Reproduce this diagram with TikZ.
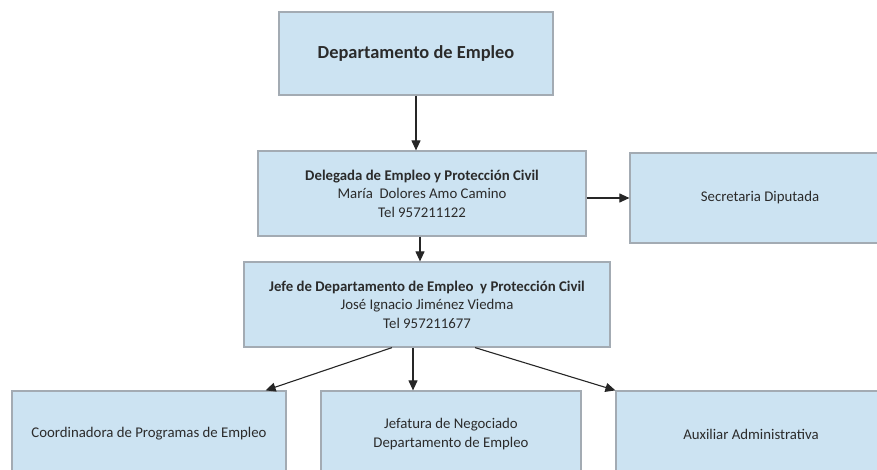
\documentclass[tikz,border=0pt]{standalone}
\usepackage{fontspec}
\setmainfont{Carlito}
\usetikzlibrary{arrows.meta, positioning}
\definecolor{boxfill}{HTML}{CCE3F2}
\definecolor{boxline}{HTML}{A3ABB3}
\definecolor{txt}{HTML}{2B2B2B}
\tikzset{
  caja/.style={draw=boxline, fill=boxfill, line width=1.2pt, align=center, text=txt, inner sep=0pt,
    font=\fontsize{14.8}{18.5}\selectfont},
  flecha/.style={-{Triangle[length=10pt, width=9pt]}, line width=1.1pt, draw=black!85}
}

\begin{document}
\begin{tikzpicture}[x=1pt, y=-1pt]
\useasboundingbox (0, 0) rectangle (877, 469);
\clip (0, 0) rectangle (877, 469);
\node[caja, minimum width=274pt, minimum height=83pt, font=\fontsize{18.4}{22}\selectfont\bfseries] (dep) at (416, 53.5) {Departamento de Empleo};
\node[caja, minimum width=328pt, minimum height=85pt] (del) at (422, 193.5) {\textbf{Delegada de Empleo y Protección Civil}\\María\ \ Dolores Amo Camino\\Tel 957211122};
\node[caja, minimum width=260pt, minimum height=90pt] (sec) at (760, 198) {Secretaria Diputada};
\node[caja, minimum width=366pt, minimum height=85pt] (jefe) at (427, 304.5) {\textbf{Jefe de Departamento de Empleo\ \ y Protección Civil}\\José Ignacio Jiménez Viedma\\Tel 957211677};
\node[caja, minimum width=274pt, minimum height=86pt] (coord) at (149, 434) {Coordinadora de Programas de Empleo};
\node[caja, minimum width=260pt, minimum height=86pt] (neg) at (451, 434) {Jefatura de Negociado\\Departamento de Empleo};
\node[caja, minimum width=270pt, minimum height=86pt] (aux) at (751, 434) {Auxiliar Administrativa};
\draw[flecha] (dep.south) -- (dep.south |- del.north);
\draw[flecha] (sec.west -| del.east) -- (sec.west);
\draw[flecha] ([xshift=-2pt]del.south) -- ([xshift=-2pt]del.south |- jefe.north);
\draw[flecha] ([xshift=-35pt]jefe.south) -- ([xshift=-21pt]coord.north east);
\draw[flecha] ([xshift=-14pt]jefe.south) -- ([xshift=-14pt]jefe.south |- neg.north);
\draw[flecha] ([xshift=48pt]jefe.south) -- (aux.north west);
\end{tikzpicture}
\end{document}
